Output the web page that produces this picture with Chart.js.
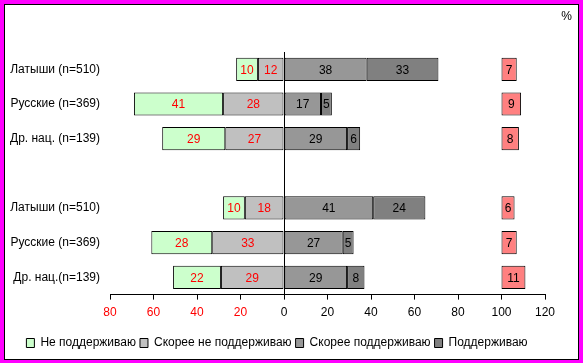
<!DOCTYPE html>
<html>
<head>
<meta charset="utf-8">
<script src="https://cdn.jsdelivr.net/npm/chart.js@4"></script>
<style>
  body { margin: 0; background: #ff00ff; }
  #box {
    position: absolute; left: 4px; top: 4px;
    width: 573px; height: 354px;
    border: 1px solid #000; background: #fff;
  }
</style>
</head>
<body>
<div id="box"><canvas id="chart" width="573" height="354"></canvas></div>
<script>
// rows (empty label = gap between the two groups)
const labels = ['Латыши (n=510)', 'Русские (n=369)', 'Др. нац. (n=139)', '',
                'Латыши (n=510)', 'Русские (n=369)', 'Др. нац.(n=139)'];

const notSupport    = [10, 41, 29, null, 10, 28, 22];
const ratherNot     = [12, 28, 27, null, 18, 33, 29];
const ratherSupport = [38, 17, 29, null, 41, 27, 29];
const support       = [33, 5, 6, null, 24, 5, 8];
const dontKnow      = [7, 9, 8, null, 6, 7, 11];

const xTicks = [-80, -60, -40, -20, 0, 20, 40, 60, 80, 100, 120];
const dkStart = 100;

const legendOrder = ['Не поддерживаю', 'Скорее не поддерживаю', 'Скорее поддерживаю', 'Поддерживаю'];

const FONT = "'Liberation Sans', Arial, sans-serif";

const neg = arr => arr.map(v => v == null ? null : -v);

// numbers inside the bars + the "%" mark
const barLabels = {
    id: 'barLabels',
    afterDatasetsDraw(chart) {
        const ctx = chart.ctx;
        ctx.save();
        ctx.font = '12px ' + FONT;
        ctx.textAlign = 'center';
        ctx.textBaseline = 'middle';
        chart.data.datasets.forEach((ds, i) => {
            const meta = chart.getDatasetMeta(i);
            meta.data.forEach((bar, j) => {
                const v = ds.src[j];
                if (v == null) return;
                ctx.fillStyle = ds.labelColor;
                ctx.fillText(String(v), (bar.x + bar.base) / 2, bar.y + 1);
            });
        });
        ctx.textAlign = 'right';
        ctx.fillStyle = '#000';
        ctx.fillText('%', chart.width - 6, 12);
        ctx.restore();
    }
};

new Chart(document.getElementById('chart'), {
    type: 'bar',
    data: {
        labels: labels,
        datasets: [
            { label: 'Скорее не поддерживаю', data: neg(ratherNot), src: ratherNot,
              backgroundColor: '#c0c0c0', labelColor: '#ff0000' },
            { label: 'Не поддерживаю', data: neg(notSupport), src: notSupport,
              backgroundColor: '#ccffcc', labelColor: '#ff0000' },
            { label: 'Скорее поддерживаю', data: ratherSupport, src: ratherSupport,
              backgroundColor: '#979797', labelColor: '#000' },
            { label: 'Поддерживаю', data: support, src: support,
              backgroundColor: '#808080', labelColor: '#000' },
            { label: 'dk', data: dontKnow.map(v => v == null ? null : [dkStart, dkStart + v]),
              src: dontKnow, stack: 'dk', grouped: false,
              backgroundColor: '#ff8080', labelColor: '#000' }
        ].map(ds => Object.assign({
            borderColor: '#000',
            borderWidth: 1,
            borderSkipped: false,
            barPercentage: 0.67,
            categoryPercentage: 1
        }, ds))
    },
    options: {
        indexAxis: 'y',
        responsive: false,
        animation: false,
        layout: { padding: { top: 47, left: 4, right: 33, bottom: 0 } },
        scales: {
            x: {
                stacked: true,
                min: -80,
                max: 120,
                afterBuildTicks: axis => { axis.ticks = xTicks.map(v => ({ value: v })); },
                afterFit: axis => { axis.height += 7; },
                border: { display: true, color: '#000', width: 1 },
                grid: {
                    color: c => c.tick && c.tick.value === 0 ? '#000' : 'rgba(0,0,0,0)',
                    tickColor: '#000',
                    tickLength: 5,
                    lineWidth: 1
                },
                ticks: {
                    callback: v => Math.abs(v),
                    color: c => c.tick.value < 0 ? '#ff0000' : '#000',
                    font: { family: FONT, size: 12 },
                    padding: 6,
                    maxRotation: 0
                }
            },
            y: {
                stacked: true,
                afterFit: axis => { axis.width -= 9; },
                border: { display: false },
                grid: { display: false, drawTicks: false },
                ticks: { color: '#000', font: { family: FONT, size: 12 }, padding: 10 }
            }
        },
        plugins: {
            legend: {
                position: 'bottom',
                labels: {
                    color: '#000',
                    font: { family: FONT, size: 12 },
                    boxWidth: 8,
                    boxHeight: 9,
                    padding: 4,
                    filter: item => item.text !== 'dk',
                    sort: (a, b) => legendOrder.indexOf(a.text) - legendOrder.indexOf(b.text)
                }
            },
            tooltip: { enabled: false }
        }
    },
    plugins: [barLabels]
});
</script>
</body>
</html>
